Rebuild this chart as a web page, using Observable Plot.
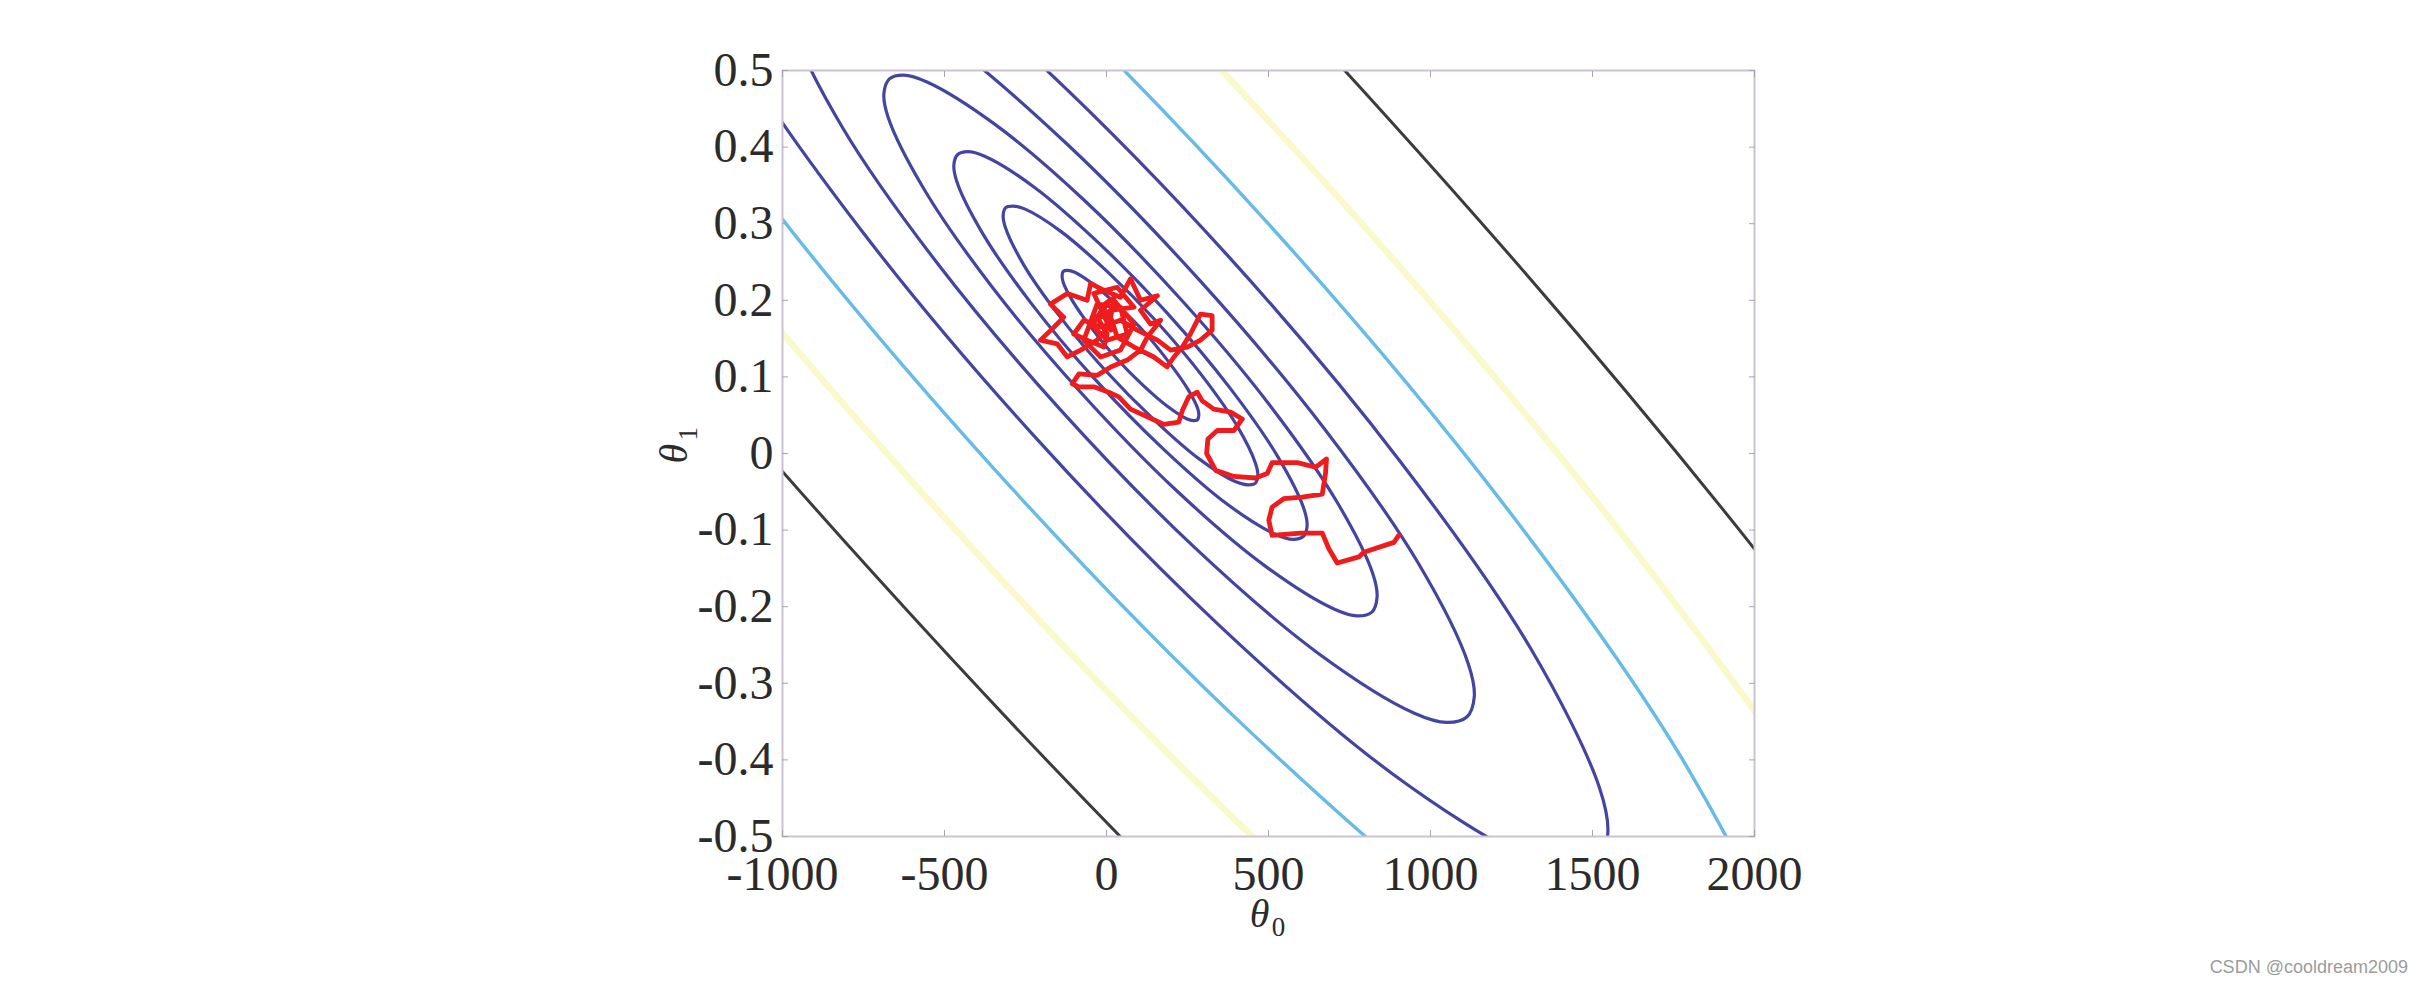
<!DOCTYPE html>
<html><head><meta charset="utf-8">
<script src="https://cdn.jsdelivr.net/npm/d3@7"></script>
<script src="https://cdn.jsdelivr.net/npm/@observablehq/plot@0.6"></script>
<style>
html,body{margin:0;padding:0;background:#fff;width:2423px;height:987px;overflow:hidden;position:relative}
#chart{position:absolute;left:0;top:0}
#wm{position:absolute;right:15px;top:957px;font:18px "Liberation Sans",Arial,sans-serif;color:#9c9c9c;white-space:nowrap}
</style></head><body>
<div id="chart"></div>
<div id="wm">CSDN @cooldream2009</div>
<script>
// Tick values
const xTicks = [-1000, -500, 0, 500, 1000, 1500, 2000];
const yTicks = [0.5, 0.4, 0.3, 0.2, 0.1, 0, -0.1, -0.2, -0.3, -0.4, -0.5];

// Contour lines of the cost J(θ0, θ1) as [θ0, θ1] points
const contour1 = [[281,0.044],[285,0.050],[282,0.058],[251,0.084],[193,0.119],[118,0.158],[35,0.193],[-41,0.221],[-100,0.237],[-120,0.239],[-133,0.238],[-137,0.233],[-134,0.224],[-103,0.198],[-45,0.163],[31,0.124],[113,0.089],[190,0.061],[249,0.045],[268,0.043]];
const contour2 = [[459,-0.039],[467,-0.029],[460,-0.013],[403,0.036],[296,0.101],[155,0.172],[1,0.238],[-141,0.290],[-251,0.319],[-288,0.323],[-311,0.321],[-319,0.311],[-312,0.295],[-255,0.246],[-148,0.181],[-7,0.110],[147,0.044],[289,-0.008],[399,-0.037],[436,-0.041]];
const contour3 = [[608,-0.108],[619,-0.095],[610,-0.073],[530,-0.005],[382,0.085],[186,0.184],[-27,0.276],[-224,0.348],[-376,0.388],[-428,0.394],[-460,0.390],[-471,0.377],[-462,0.355],[-382,0.287],[-234,0.197],[-38,0.098],[175,0.006],[372,-0.066],[524,-0.106],[576,-0.112]];
const contour4 = [[819,-0.207],[835,-0.188],[822,-0.157],[711,-0.063],[504,0.063],[230,0.201],[-67,0.330],[-342,0.429],[-554,0.485],[-626,0.494],[-670,0.489],[-687,0.470],[-674,0.439],[-563,0.345],[-356,0.219],[-82,0.081],[215,-0.048],[490,-0.147],[702,-0.203],[774,-0.212]];
const contour5 = [[1112,-0.344],[1135,-0.318],[1117,-0.275],[962,-0.143],[673,0.032],[292,0.224],[-122,0.404],[-506,0.543],[-802,0.621],[-902,0.633],[-964,0.626],[-987,0.600],[-969,0.557],[-814,0.425],[-525,0.250],[-144,0.058],[270,-0.122],[654,-0.261],[950,-0.339],[1050,-0.351]];
const contour6 = [[1515,-0.532],[1547,-0.497],[1522,-0.437],[1307,-0.253],[906,-0.010],[377,0.257],[-199,0.506],[-731,0.699],[-1142,0.808],[-1281,0.824],[-1367,0.814],[-1399,0.779],[-1374,0.719],[-1159,0.535],[-758,0.292],[-228,0.025],[347,-0.224],[879,-0.417],[1290,-0.526],[1429,-0.542]];
const contour7 = [[2080,-0.796],[2124,-0.747],[2089,-0.663],[1790,-0.408],[1231,-0.069],[495,0.302],[-305,0.649],[-1046,0.918],[-1619,1.069],[-1812,1.092],[-1932,1.078],[-1976,1.029],[-1941,0.945],[-1642,0.690],[-1083,0.351],[-347,-0.020],[453,-0.367],[1194,-0.636],[1767,-0.787],[1960,-0.810]];
const contour8 = [[2839,-1.151],[2899,-1.082],[2851,-0.967],[2439,-0.615],[1669,-0.148],[654,0.363],[-449,0.841],[-1470,1.211],[-2259,1.420],[-2525,1.451],[-2691,1.432],[-2751,1.364],[-2703,1.249],[-2291,0.897],[-1521,0.430],[-506,-0.081],[597,-0.559],[1618,-0.929],[2407,-1.138],[2673,-1.169]];
const contour9 = [[3817,-1.608],[3899,-1.515],[3833,-1.360],[3276,-0.883],[2233,-0.251],[860,0.442],[-634,1.089],[-2017,1.590],[-3084,1.872],[-3445,1.915],[-3669,1.890],[-3751,1.797],[-3685,1.641],[-3128,1.165],[-2085,0.533],[-712,-0.160],[782,-0.807],[2165,-1.308],[3233,-1.590],[3593,-1.633]];

// Stochastic gradient descent path (θ0, θ1), from start to end
const sgdTheta0 = [902,887,794,779,712,686,666,599,511,501,511,547,604,666,676,679,645,589,511,496,460,393,337,309,313,342,393,419,383,331,295,280,254,234,223,177,126,74,38,7,-39,-85,-106,-85,-29,13,64,105,126,167,136,105,157,105,74,43,-8,-49,-60,-121,-173,-132,-162,-204,-152,-121,-80,-29,13,-18,23,13,33,85,146,187,208,234,259,290,326,326,290,249,198,157,95,43,-18,-70,-101,-60,-8,2,-29,-8,13,-39,33,85,13,-49,2,64,43,-29,-70,-18,43,85,23];
const sgdTheta1 = [-0.107,-0.116,-0.129,-0.135,-0.143,-0.124,-0.104,-0.104,-0.107,-0.087,-0.070,-0.059,-0.057,-0.053,-0.026,-0.007,-0.018,-0.012,-0.012,-0.026,-0.032,-0.030,-0.022,0.000,0.019,0.030,0.030,0.045,0.054,0.058,0.069,0.080,0.074,0.056,0.041,0.038,0.048,0.058,0.074,0.080,0.087,0.087,0.091,0.104,0.102,0.113,0.122,0.135,0.152,0.174,0.169,0.187,0.206,0.200,0.228,0.204,0.213,0.222,0.200,0.209,0.195,0.178,0.165,0.148,0.143,0.126,0.135,0.148,0.169,0.191,0.204,0.178,0.152,0.139,0.126,0.113,0.126,0.139,0.156,0.182,0.180,0.161,0.148,0.139,0.135,0.148,0.161,0.174,0.165,0.174,0.156,0.148,0.139,0.156,0.178,0.191,0.161,0.209,0.217,0.191,0.187,0.169,0.148,0.156,0.191,0.195,0.148,0.126,0.135,0.169,0.200];

// Build tables for Plot
const toRows = (list) => list.flatMap(([id, pts]) => pts.map(([t0, t1]) => ({id, t0, t1})));
const blueRows = toRows([["c1", contour1], ["c2", contour2], ["c3", contour3], ["c4", contour4], ["c5", contour5], ["c6", contour6]]);
const cyanRows = toRows([["c7", contour7]]);
const yellowRows = toRows([["c8", contour8]]);
const blackRows = toRows([["c9", contour9]]);
const sgdRows = sgdTheta0.map((t0, i) => ({t0, t1: sgdTheta1[i]}));

const serif = "'Liberation Serif','Times New Roman',serif";
const tickColor = "#2b2b2b";

const chart = Plot.plot({
  width: 2423,
  height: 987,
  marginLeft: 782,
  marginRight: 669,
  marginTop: 70,
  marginBottom: 151,
  style: {fontFamily: serif, background: "#fff"},
  x: {domain: [-1000, 2000], label: null},
  y: {domain: [-0.5, 0.5], label: null},
  marks: [
    Plot.line(yellowRows, {x: "t0", y: "t1", z: "id", stroke: "#f9f9cc", strokeWidth: 6.5, curve: "catmull-rom-closed", clip: true}),
    Plot.line(blackRows, {x: "t0", y: "t1", z: "id", stroke: "#3c3c3c", strokeWidth: 3, curve: "catmull-rom-closed", clip: true}),
    Plot.line(cyanRows, {x: "t0", y: "t1", z: "id", stroke: "#66bbe8", strokeWidth: 3.4, curve: "catmull-rom-closed", clip: true}),
    Plot.line(blueRows, {x: "t0", y: "t1", z: "id", stroke: "#4544a0", strokeWidth: 3.2, curve: "catmull-rom-closed", clip: true}),
    Plot.line(sgdRows, {x: "t0", y: "t1", stroke: "#ee1c1c", strokeWidth: 4.8, strokeLinejoin: "round", strokeLinecap: "round", clip: true}),
    Plot.frame({stroke: "#cbc3d3", strokeWidth: 2}),
    // inward tick marks on all four sides
    Plot.axisX({anchor: "bottom", ticks: xTicks, tickSize: -6, fill: "none", stroke: "#aaa3b3", label: null}),
    Plot.axisX({anchor: "top", ticks: xTicks, tickSize: -6, fill: "none", stroke: "#aaa3b3", label: null}),
    Plot.axisY({anchor: "left", ticks: yTicks, tickSize: -6, fill: "none", stroke: "#aaa3b3", label: null}),
    Plot.axisY({anchor: "right", ticks: yTicks, tickSize: -6, fill: "none", stroke: "#aaa3b3", label: null}),
    // tick labels
    Plot.axisX({anchor: "bottom", ticks: xTicks, tickSize: 0, tickPadding: 19, tickFormat: (d) => String(d), fontSize: 48, fontFamily: serif, fill: tickColor, label: null}),
    Plot.axisY({anchor: "left", ticks: yTicks, tickSize: 0, tickPadding: 9, tickFormat: (d) => String(d), fontSize: 48, fontFamily: serif, fill: tickColor, label: null}),
    // axis titles θ0 and θ1
    Plot.text(["θ"], {text: (d) => d, frameAnchor: "bottom", dx: -9, dy: 90, fontSize: 40, fontStyle: "italic", fontFamily: serif, fill: tickColor}),
    Plot.text(["0"], {text: (d) => d, frameAnchor: "bottom", dx: 10, dy: 99, fontSize: 27, fontFamily: serif, fill: tickColor}),
    Plot.text(["θ"], {text: (d) => d, frameAnchor: "left", dx: -108, dy: 10, rotate: -90, fontSize: 40, fontStyle: "italic", fontFamily: serif, fill: tickColor}),
    Plot.text(["1"], {text: (d) => d, frameAnchor: "left", dx: -94, dy: -13, rotate: -90, fontSize: 27, fontFamily: serif, fill: tickColor})
  ]
});
document.getElementById("chart").appendChild(chart);
</script>
</body></html>
